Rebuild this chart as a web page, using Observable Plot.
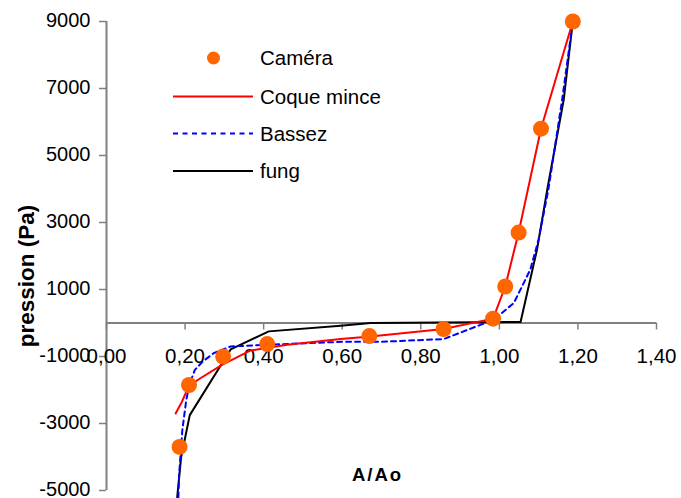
<!DOCTYPE html>
<html><head><meta charset="utf-8">
<script src="https://cdn.jsdelivr.net/npm/d3@7"></script>
<script src="https://cdn.jsdelivr.net/npm/@observablehq/plot@0.6"></script>
<style>
body{margin:0;background:#fff;}
#wrap{position:relative;width:681px;height:498px;overflow:hidden;}
#wrap svg{display:block;}
#legend{position:absolute;left:0;top:0;pointer-events:none;}
</style></head><body><div id="wrap"></div>
<script>
// ---- data ----
const xTicks = [0, 0.2, 0.4, 0.6, 0.8, 1.0, 1.2, 1.4];
const yTicks = [-5000, -3000, -1000, 1000, 3000, 5000, 7000, 9000];

const cameraX = [0.186, 0.210, 0.297, 0.409, 0.669, 0.858, 0.984, 1.015, 1.049, 1.106, 1.187];
const cameraY = [-3700, -1850, -1000, -630, -390, -180, 130, 1090, 2700, 5800, 9000];

const coqueX = [0.176, 0.192, 0.210, 0.239, 0.294, 0.367, 0.460, 0.596, 0.672, 0.858, 0.984, 1.015, 1.049, 1.106, 1.187];
const coqueY = [-2700, -2350, -1870, -1650, -1250, -820, -650, -480, -400, -180, 130, 1090, 2700, 5800, 9000];

const bassezX = [0.183, 0.185, 0.193, 0.203, 0.212, 0.225, 0.245, 0.273, 0.316, 0.410, 0.600, 0.700, 0.858, 0.920, 0.986, 1.037, 1.079, 1.100, 1.125, 1.160, 1.187];
const bassezY = [-5200, -4500, -3200, -2300, -1800, -1400, -1150, -900, -700, -650, -560, -560, -480, -200, 100, 600, 1600, 2500, 4000, 6680, 9000];

const fungX = [0.180, 0.190, 0.212, 0.316, 0.413, 0.596, 0.672, 1.054, 1.096, 1.122, 1.164, 1.187];
const fungY = [-5200, -4000, -2750, -790, -250, -80, 0, 30, 2200, 3990, 6680, 9000];

const legendNames = ["Caméra", "Coque mince", "Bassez", "fung"];
const legendColors = ["#FF6600", "#FF0000", "#0000FF", "#000000"];
const legendKinds = ["dot", "line", "dash", "line"];

const xLabel = "A/Ao";
const yLabel = "pression (Pa)";

// ---- layout ----
const W = 681, H = 498, mL = 106, mR = 25, mT = 21, mB = 8;
const xDomain = [0, 1.4], yDomain = [-5000, 9000];
const xPerPx = (xDomain[1] - xDomain[0]) / (W - mL - mR);
const yPerPx = (yDomain[1] - yDomain[0]) / (H - mT - mB);
const FONT = "'Liberation Sans', Arial, sans-serif";
const AXIS = "#808080";

const zip = (xs, ys) => xs.map((x, i) => ({x, y: ys[i]}));
const camera = zip(cameraX, cameraY);
const coque = zip(coqueX, coqueY);
const bassez = zip(bassezX, bassezY);
const fung = zip(fungX, fungY);
const fmtX = d => d.toFixed(2).replace(".", ",");

const chart = Plot.plot({
  width: W, height: H,
  marginLeft: mL, marginRight: mR, marginTop: mT, marginBottom: mB,
  style: {fontFamily: FONT, background: "#fff", overflow: "hidden"},
  x: {domain: xDomain, axis: null},
  y: {domain: yDomain, axis: null},
  marks: [
    // axes
    Plot.ruleX([0], {y1: yDomain[0], y2: yDomain[1], stroke: AXIS, strokeWidth: 2}),
    Plot.ruleY(yTicks, {y: d => d, x1: -7 * xPerPx, x2: 0, stroke: AXIS, strokeWidth: 1.5}),
    Plot.ruleY([0], {x1: xDomain[0], x2: xDomain[1], stroke: AXIS, strokeWidth: 2}),
    Plot.ruleX(xTicks, {x: d => d, y1: 0, y2: -7 * yPerPx, stroke: AXIS, strokeWidth: 1.5}),
    Plot.text(yTicks, {x: 0, y: d => d, text: d => String(d), dx: -16, dy: -0.5, textAnchor: "end", fontSize: 20, fill: "#000"}),
    Plot.text(xTicks, {x: d => d, y: 0, text: fmtX, dy: 33, textAnchor: "middle", fontSize: 20.5, fill: "#000"}),
    // series
    Plot.line(fung, {x: "x", y: "y", stroke: "#000", strokeWidth: 2}),
    Plot.line(bassez, {x: "x", y: "y", stroke: "#0000FF", strokeWidth: 2, strokeDasharray: "5,4"}),
    Plot.line(coque, {x: "x", y: "y", stroke: "#FF0000", strokeWidth: 2}),
    Plot.dot(camera, {x: "x", y: "y", r: 8, fill: "#FF6600", stroke: "none"}),
    // axis titles
    Plot.text([yLabel], {frameAnchor: "left", text: d => d, rotate: -90, textAnchor: "middle", dx: -80, dy: 20, fontSize: 22.5, fontWeight: "bold", fill: "#000"}),
    Plot.text([xLabel], {frameAnchor: "bottom", text: d => d, textAnchor: "middle", dx: -4, dy: -10, fontSize: 18.5, fontWeight: "bold", fill: "#000"})
  ]
});
document.getElementById("wrap").appendChild(chart);
d3.select(chart).selectAll("text").filter(function(){ return this.textContent === xLabel; })
  .style("letter-spacing", "2px");

// legend overlay
const lg = d3.select("#wrap").append("svg").attr("id", "legend").attr("width", W).attr("height", H);
const rowsY = [58, 96.5, 133.5, 171];
legendNames.forEach((name, i) => {
  const y = rowsY[i];
  if (legendKinds[i] === "dot") {
    lg.append("circle").attr("cx", 213.5).attr("cy", y).attr("r", 6.5).attr("fill", legendColors[i]);
  } else {
    const l = lg.append("line").attr("x1", 173).attr("x2", 253).attr("y1", y).attr("y2", y)
      .attr("stroke", legendColors[i]).attr("stroke-width", 2);
    if (legendKinds[i] === "dash") l.attr("stroke-dasharray", "5,4.5");
  }
  lg.append("text").attr("x", 260).attr("y", y).attr("dy", "0.36em")
    .attr("font-family", FONT).attr("font-size", 20.5).attr("fill", "#000").text(name);
});
</script></body></html>
